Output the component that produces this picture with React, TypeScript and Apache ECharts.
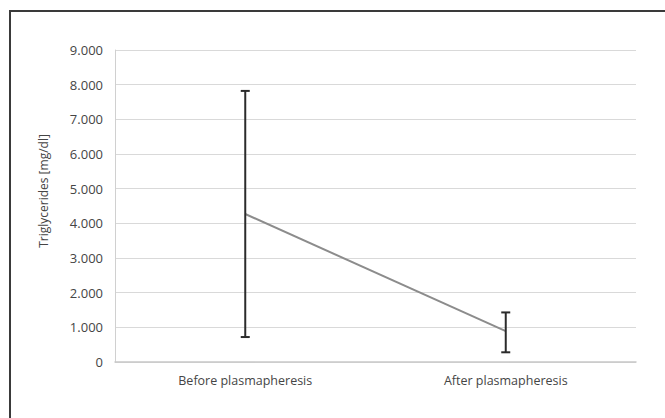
import React, { useEffect, useRef } from "react";
import * as echarts from "echarts";

const categories = ["Before plasmapheresis", "After plasmapheresis"];
const means = [4270, 890];
const lows = [720, 280];
const highs = [7820, 1430];
const yTicks = [0, 1000, 2000, 3000, 4000, 5000, 6000, 7000, 8000, 9000];
const yAxisTitle = "Triglycerides [mg/dl]";

function fmt(v: number): string {
  if (v === 0) return "0";
  const th = Math.floor(v / 1000);
  const rest = String(Math.round(v % 1000)).padStart(3, "0");
  return th + "." + rest;
}

export default function App() {
  const ref = useRef<HTMLDivElement>(null);
  useEffect(() => {
    if (!ref.current) return;
    const chart = echarts.init(ref.current, undefined, { renderer: "svg" });
    const errData = categories.map((_, i) => [i, lows[i], highs[i]]);
    chart.setOption({
      animation: false,
      backgroundColor: "#ffffff",
      textStyle: { fontFamily: "Open Sans" },
      graphic: [
        {
          type: "rect",
          shape: { x: 10, y: 11, width: 700, height: 450 },
          style: { fill: "none", stroke: "#3a3a3a", lineWidth: 2 },
          silent: true,
        },
        {
          type: "text",
          x: 43,
          y: 191,
          rotation: Math.PI / 2,
          style: {
            text: yAxisTitle,
            fill: "#454545",
            fontSize: 12,
            fontFamily: "Open Sans",
            align: "center",
            verticalAlign: "middle",
          },
          silent: true,
        },
      ],
      grid: { left: 115, right: 29, top: 50, bottom: 56 },
      xAxis: {
        type: "category",
        data: categories,
        boundaryGap: true,
        axisLine: { show: true, lineStyle: { color: "#c8c8c8", width: 1.5 } },
        axisTick: { show: false },
        axisLabel: { color: "#454545", fontSize: 12.5, margin: 12 },
      },
      yAxis: {
        type: "value",
        min: yTicks[0],
        max: yTicks[yTicks.length - 1],
        interval: 1000,
        axisLine: { show: true, lineStyle: { color: "#d0d0d0", width: 1 } },
        axisTick: { show: false },
        axisLabel: {
          color: "#454545",
          fontSize: 13,
          margin: 12,
          formatter: (v: number) => fmt(v),
        },
        splitLine: { show: true, lineStyle: { color: "#d9d9d9", width: 1 } },
      },
      series: [
        {
          type: "line",
          data: means,
          symbol: "none",
          lineStyle: { color: "#8c8c8c", width: 2 },
          z: 3,
        },
        {
          type: "custom",
          data: errData,
          z: 4,
          renderItem: (params: any, api: any) => {
            const x = api.value(0);
            const lo = api.coord([x, api.value(1)]);
            const hi = api.coord([x, api.value(2)]);
            const hw = 4.5;
            const style = { stroke: "#2b2b2b", lineWidth: 2 };
            return {
              type: "group",
              children: [
                { type: "line", shape: { x1: hi[0], y1: hi[1], x2: lo[0], y2: lo[1] }, style },
                { type: "line", shape: { x1: hi[0] - hw, y1: hi[1], x2: hi[0] + hw, y2: hi[1] }, style },
                { type: "line", shape: { x1: lo[0] - hw, y1: lo[1], x2: lo[0] + hw, y2: lo[1] }, style },
              ],
            };
          },
        },
      ],
    });
    return () => chart.dispose();
  }, []);
  return (
    <div
      ref={ref}
      style={{ position: "fixed", left: 0, top: 0, width: 665, height: 418 }}
    />
  );
}
